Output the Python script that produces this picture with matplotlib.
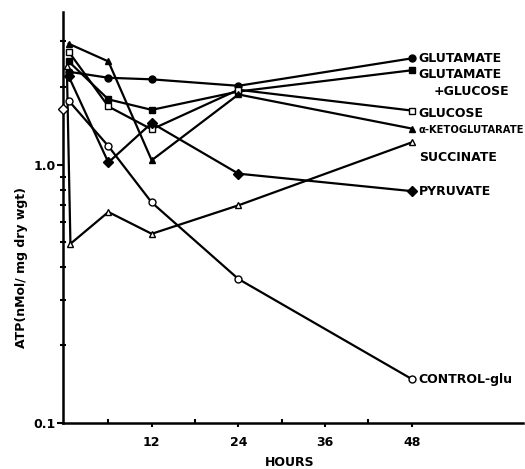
import matplotlib
matplotlib.use("Agg")
import matplotlib.pyplot as plt

# time points (hours)
t_main = [0.5, 6, 12, 24, 48]
t_succ = [0.25, 0.75, 6, 12, 24, 48]

# ATP values (nMol/mg dry wgt)
glutamate = [2.29, 2.17, 2.14, 2.02, 2.58]
glut_gluc = [2.51, 1.79, 1.63, 1.92, 2.32]
glucose = [2.74, 1.68, 1.37, 1.95, 1.62]
a_keto = [2.94, 2.51, 1.04, 1.87, 1.38]
succinate = [2.40, 0.494, 0.656, 0.54, 0.696, 1.22]
pyruvate = [2.20, 1.02, 1.45, 0.923, 0.79]
control = [1.77, 1.18, 0.714, 0.361, 0.148]
initial = 1.65  # open diamond at time 0

txt = dict(fontsize=9, fontweight="bold", family="DejaVu Sans")

fig = plt.figure(figsize=(5.25, 4.69), dpi=100)
ax = fig.add_axes([63 / 525, 1 - 423 / 469, 460 / 525, 411 / 469])
ax.set_yscale("log")

lw = 1.6
ms = 5
ax.plot(t_main, glutamate, "o-", color="k", lw=lw, ms=ms, zorder=3)
ax.plot(t_main, glut_gluc, "s-", color="k", lw=lw, ms=ms, zorder=3)
ax.plot(t_main, glucose, "s-", color="k", mfc="white", lw=lw, ms=ms, zorder=3)
ax.plot(t_main, a_keto, "^-", color="k", lw=lw, ms=ms, zorder=3)
ax.plot(t_succ, succinate, "^-", color="k", mfc="white", lw=lw, ms=ms, zorder=3)
ax.plot(t_main, pyruvate, "D-", color="k", lw=lw, ms=4.6, zorder=3)
ax.plot(t_main, control, "o-", color="k", mfc="white", lw=lw, ms=ms, zorder=3)
ax.plot([-0.28], [initial], "D", color="k", mfc="white", ms=4.6, clip_on=False, zorder=4)

ax.set_xlim(-0.28, 63.4)
ax.set_ylim(0.1, 3.9)

for s in ["top", "right"]:
    ax.spines[s].set_visible(False)
for s in ["left", "bottom"]:
    ax.spines[s].set_linewidth(1.8)

ax.set_yticks([0.1, 1.0])
ax.set_yticklabels(["0.1", "1.0"], **txt)
ax.set_yticks([0.2, 0.3, 0.4, 0.5, 0.6, 0.7, 0.8, 0.9, 2, 3], minor=True)
ax.yaxis.set_minor_formatter(plt.NullFormatter())
ax.tick_params(axis="y", which="major", direction="out", length=4, width=1.5, pad=1)
ax.tick_params(axis="y", which="minor", direction="inout", length=4, width=1.5)

ax.set_xticks([12, 24, 36, 48])
ax.set_xticklabels(["12", "24", "36", "48"], **txt)
ax.set_xticks([6, 18, 30, 42], minor=True)
ax.tick_params(axis="x", which="major", direction="out", length=3, width=1.5, pad=6)
ax.tick_params(axis="x", which="minor", direction="in", length=3, width=1.5)

# series labels at the right end
def label(text, y, dy=0, dx=5, **kw):
    ax.annotate(text, (48, y), xytext=(dx, dy), textcoords="offset points",
                va="center", ha="left", **kw)

label("GLUTAMATE", glutamate[-1], **txt)
label("GLUTAMATE", glut_gluc[-1], dy=-3, **txt)
label("+GLUCOSE", glut_gluc[-1], dy=-15, dx=16, **txt)
label("GLUCOSE", glucose[-1], dy=-2, **txt)
label("α-KETOGLUTARATE", a_keto[-1], dy=-1, fontsize=7.2, fontweight="bold", family="DejaVu Sans")
label("SUCCINATE", succinate[-1], dy=-11, **txt)
label("PYRUVATE", pyruvate[-1], **txt)
label("CONTROL-glu", control[-1], **txt)

fig.text(22 / 525, 1 - 268 / 469, "ATP(nMol/ mg dry wgt)", rotation=90,
         ha="center", va="center", fontsize=9, fontweight="bold")
fig.text(290 / 525, 1 - 462 / 469, "HOURS", ha="center", va="center", **txt)

fig.savefig("out.png", dpi=100)
